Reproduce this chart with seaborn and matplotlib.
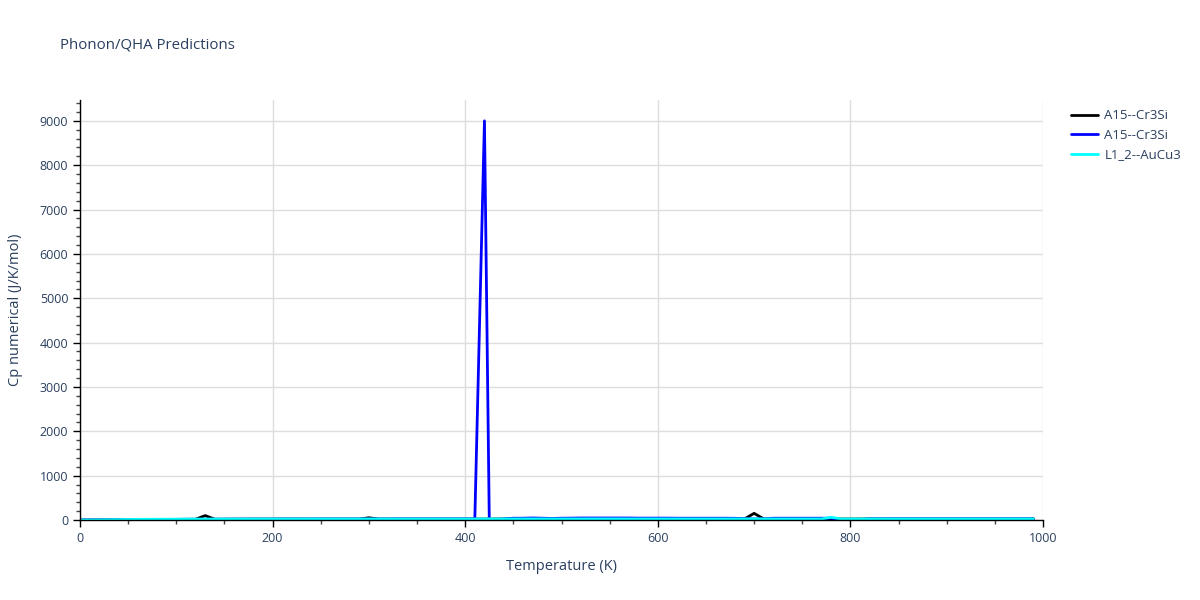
import numpy as np
import pandas as pd
import matplotlib
matplotlib.use("Agg")
import matplotlib.pyplot as plt
import seaborn as sns
from matplotlib.ticker import MultipleLocator

# temperatures (K)
temp = list(range(0, 1000, 10))
temp_blue = temp[:43] + [425] + temp[43:]

# Cp values (J/K/mol)
cp_cr3si_a = [
    0, 0, 1, 2, 4, 6, 8, 9, 11, 12,
    14, 15, 16, 100, 17, 18, 19, 19, 20, 20,
    20, 21, 21, 21, 21, 22, 22, 22, 22, 22,
    50, 22, 22, 23, 23, 23, 23, 23, 23, 23,
    23, 23, 23, 23, 23, 23, 23, 23, 24, 24,
    24, 24, 24, 24, 24, 24, 24, 24, 24, 24,
    24, 24, 24, 24, 24, 24, 24, 24, 24, 24,
    150, 24, 24, 24, 24, 24, 24, 24, 24, 24,
    24, 24, 25, 25, 25, 25, 25, 25, 25, 25,
    25, 25, 25, 25, 25, 25, 25, 25, 25, 25,
]
cp_cr3si_b = [
    0, 0, 1, 2, 4, 6, 8, 9, 11, 12,
    14, 15, 16, 17, 17, 18, 19, 19, 20, 20,
    20, 21, 21, 21, 21, 22, 22, 22, 22, 22,
    22, 22, 22, 23, 23, 23, 23, 23, 23, 23,
    23, 23, 9000, 10, 23, 40, 40, 45, 40, 35,
    40, 42, 45, 45, 45, 45, 45, 45, 42, 42,
    42, 42, 40, 40, 40, 40, 40, 40, 38, 30,
    24, 24, 40, 40, 40, 40, 40, 40, 40, 10,
    0, 10, 24, 24, 25, 25, 25, 25, 25, 25,
    25, 25, 25, 25, 25, 25, 25, 25, 25, 25,
]
cp_cr3si_b = cp_cr3si_b[:43] + [8] + cp_cr3si_b[43:]
cp_aucu3 = [
    0, 1, 3, 6, 9, 12, 14, 16, 17, 18,
    19, 20, 20, 21, 21, 22, 22, 22, 23, 23,
    23, 23, 23, 23, 24, 24, 24, 24, 24, 24,
    24, 24, 24, 24, 24, 24, 24, 24, 24, 24,
    24, 24, 25, 25, 25, 25, 25, 25, 25, 25,
    25, 25, 25, 25, 25, 25, 25, 25, 25, 25,
    25, 25, 25, 25, 25, 25, 25, 25, 25, 25,
    25, 25, 25, 25, 25, 25, 25, 25, 60, 25,
    25, 25, 25, 25, 25, 25, 25, 25, 25, 25,
    25, 25, 25, 25, 25, 25, 25, 25, 25, 25,
]

labels = ["A15--Cr3Si", "A15--Cr3Si", "L1_2--AuCu3"]
colors = ["black", "blue", "cyan"]

sns.set_style("white")
plt.rcParams["font.family"] = ["Open Sans", "DejaVu Sans"]
text_color = "#2a3f5f"

fig = plt.figure(figsize=(12, 6), dpi=100)
ax = fig.add_axes([80 / 1200, 80 / 600, 963 / 1200, 420 / 600])

series = [(temp, cp_cr3si_a), (temp_blue, cp_cr3si_b), (temp, cp_aucu3)]
for (t, cp), lab, col in zip(series, labels, colors):
    df = pd.DataFrame({"T": t, "Cp": cp})
    sns.lineplot(data=df, x="T", y="Cp", ax=ax, color=col, label=lab,
                 linewidth=2, sort=False, estimator=None)

ax.set_xlim(0, 1000)
ax.set_ylim(0, 9470)
ax.xaxis.set_major_locator(MultipleLocator(200))
ax.xaxis.set_minor_locator(MultipleLocator(50))
ax.yaxis.set_major_locator(MultipleLocator(1000))
ax.yaxis.set_minor_locator(MultipleLocator(200))
ax.grid(True, which="major", color="#dddddd", linewidth=1)
ax.set_axisbelow(True)
for side in ["top", "right"]:
    ax.spines[side].set_visible(False)
for side in ["left", "bottom"]:
    ax.spines[side].set_color("black")
    ax.spines[side].set_linewidth(1)
ax.tick_params(which="major", direction="out", length=5, width=1, color="black",
               labelsize=9, labelcolor=text_color, bottom=True, left=True)
ax.tick_params(which="minor", direction="out", length=3, width=1, color="#444444",
               bottom=True, left=True)
ax.set_xlabel("Temperature (K)", fontsize=10.5, color=text_color, labelpad=10)
ax.set_ylabel("Cp numerical (J/K/mol)", fontsize=10.5, color=text_color, labelpad=12)

fig.text(60 / 1200, 1 - 45 / 600, "Phonon/QHA Predictions", fontsize=10.8,
         color=text_color, va="center", ha="left")

ax.legend_.remove()
handles, lbls = ax.get_legend_handles_labels()
fig.legend(handles, lbls, loc="upper left", bbox_to_anchor=(1066 / 1200, 1 - 104 / 600),
           frameon=False, fontsize=9.5, labelcolor=text_color, handlelength=2.0,
           handletextpad=0.5, borderaxespad=0, labelspacing=0.5)

fig.savefig("out.png", dpi=100)
